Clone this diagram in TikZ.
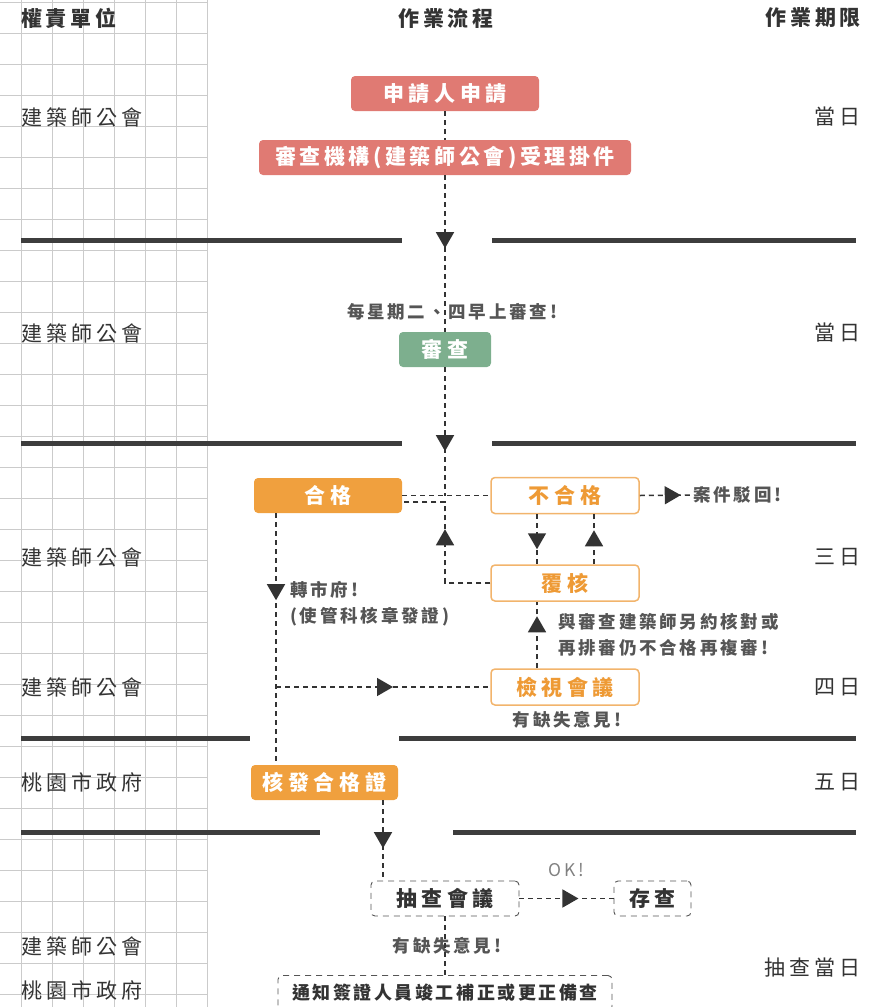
\documentclass[tikz,border=0pt]{standalone}
\usepackage{fontspec}
\setmainfont{Noto Sans CJK TC}
\usetikzlibrary{arrows.meta,decorations.markings,calc}
\definecolor{salmon}{HTML}{E07A73}
\definecolor{sage}{HTML}{7DAF8E}
\definecolor{orng}{HTML}{F0A03E}
\definecolor{orngline}{HTML}{F2B46C}
\definecolor{orngtxt}{HTML}{EE9A35}
\definecolor{ink}{HTML}{333333}
\definecolor{inkl}{HTML}{555555}
\definecolor{gridc}{HTML}{CBCBCB}
\definecolor{sepc}{HTML}{3D3D3D}
\tikzset{
  gridline/.style={draw=gridc, line width=0.9pt},
  sepline/.style={draw=sepc, line width=5pt},
  boxfont/.style={font=\fontsize{21}{23}\selectfont\bfseries\addfontfeature{LetterSpace=22}},
  filledbox/.style={boxfont, rounded corners=4pt, minimum height=35pt, text=white, inner sep=0pt},
  salbox/.style={filledbox, fill=salmon},
  greenbox/.style={filledbox, fill=sage},
  orbox/.style={filledbox, fill=orng},
  obox/.style={boxfont, rounded corners=4pt, minimum height=36pt, minimum width=148pt, inner sep=0pt, draw=orngline, line width=1.5pt, fill=white, text=orngtxt},
  dbox/.style={boxfont, rounded corners=4pt, minimum height=35pt, inner sep=0pt, draw=inkl, line width=0.9pt, dash pattern=on 6pt off 5pt, fill=white, text=ink},
  header/.style={font=\fontsize{21}{23}\selectfont\bfseries\addfontfeature{LetterSpace=18}, text=ink, inner sep=0pt},
  side/.style={font=\fontsize{21}{23}\selectfont\addfontfeature{LetterSpace=19}, text=ink, inner sep=0pt},
  lbl/.style={font=\fontsize{17.5}{26}\selectfont\bfseries\addfontfeature{LetterSpace=16}, text=inkl, inner sep=0pt, align=left},
  dline/.style={draw=ink, line width=1.5pt, dash pattern=on 5pt off 4pt},
  tipat/.style={postaction={decorate, decoration={markings, mark=at position #1 with {\arrow[ink]{Triangle[length=16pt,width=18pt]}}}}}
}
\begin{document}
\begin{tikzpicture}[x=1pt,y=-1pt]
\useasboundingbox (0,0) rectangle (877,1007);
% grid
\foreach \k in {0,...,32} \draw[gridline] (0,2.5+31*\k) -- (207,2.5+31*\k);
\foreach \k in {0,...,6} \draw[gridline] (21.5+31*\k,0) -- (21.5+31*\k,1007);
% separators
\draw[sepline] (21,240) -- (402,240);
\draw[sepline] (492,240) -- (856,240);
\draw[sepline] (21,443) -- (402,443);
\draw[sepline] (492,443) -- (856,443);
\draw[sepline] (21,738) -- (250,738);
\draw[sepline] (399,738) -- (856,738);
\draw[sepline] (21,832) -- (320,832);
\draw[sepline] (453,832) -- (856,832);
% headers
\node[header, anchor=west] (h1) at (21,18) {權責單位};
\node[header] (h2) at (446,18) {作業流程};
\node[header, anchor=east] (h3) at (861,18) {作業期限};
% left labels
\node[side, anchor=west] (u1) at (21,117) {建築師公會};
\node[side, anchor=west] (u2) at (21,333) {建築師公會};
\node[side, anchor=west] (u3) at (21,557) {建築師公會};
\node[side, anchor=west] (u4) at (21,687) {建築師公會};
\node[side, anchor=west] (u5) at (21,782) {桃園市政府};
\node[side, anchor=west] (u6) at (21,946) {建築師公會};
\node[side, anchor=west] (u7) at (21,990) {桃園市政府};
% right labels
\node[side, anchor=east] (d1) at (861,117) {當日};
\node[side, anchor=east] (d2) at (861,333) {當日};
\node[side, anchor=east] (d3) at (861,557) {三日};
\node[side, anchor=east] (d4) at (861,687) {四日};
\node[side, anchor=east] (d5) at (861,782) {五日};
\node[side, anchor=east] (d6) at (861,968) {抽查當日};
% coordinates
\coordinate (cx) at (276,0);
\coordinate (cx2) at (383,0);
\coordinate (cl) at (537,0);
\coordinate (cr) at (594,0);
% nodes
\node[salbox, minimum width=188pt] (apply) at (445,93.5) {申請人申請};
\node[salbox, minimum width=372pt, font=\fontsize{21}{23}\selectfont\bfseries\addfontfeature{LetterSpace=17}] (accept) at (445,157.5) {審查機構(建築師公會)受理掛件};
\node[greenbox, minimum width=92pt] (review) at (445,349.5) {審查};
\node[orbox, minimum width=148pt] (pass) at (328,495.5) {合格};
\node[obox] (fail) at (565,495.5) {不合格};
\node[obox] (recheck) at (565,583) {覆核};
\node[obox] (meet) at (565,687) {檢視會議};
\node[orbox, minimum width=147pt] (issue) at (324.5,782.5) {核發合格證};
\node[dbox, minimum width=148pt] (spot) at (445,898.5) {抽查會議};
\node[dbox, minimum width=77pt] (store) at (652.5,898.5) {存查};
\node[dbox, minimum width=334pt, font=\fontsize{18}{20}\selectfont\bfseries\addfontfeature{LetterSpace=14}] (notify) at (445,993) {通知簽證人員竣工補正或更正備查};
% labels
\node[lbl, anchor=center] (weekly) at (452,312) {每星期二、四早上審查!};
\node[lbl, anchor=west] (reject) at (693,495) {案件駁回!};
\node[lbl, anchor=west] (note) at (558,635) {與審查建築師另約核對或\\再排審仍不合格再複審!};
\node[lbl, anchor=west] (tocity) at (290,603.5) {轉市府!\\(使管科核章發證)};
\node[lbl] (defect1) at (567,720) {有缺失意見!};
\node[lbl, font=\fontsize{17.5}{20}\selectfont\addfontfeature{LetterSpace=16}, text=gray] (ok) at (566,870) {OK!};
\node[lbl] (defect2) at (447,946) {有缺失意見!};
% connectors
\draw[dline] (apply) -- (accept);
\draw[dline, tipat=73pt] (accept) -- (review);
\coordinate (j1) at (445,495.5);
\coordinate (j2) at (445,502);
\draw[dline, tipat=84pt] (review) -- (j1);
\draw[dline] (pass.east) -- (fail.west);
\draw[dline, tipat=99pt] (recheck.west) -| (j2) -- (j2 -| pass.east);
\draw[dline, tipat=41pt] (fail.east) -- (reject.west);
\draw[dline, tipat=35pt] (fail.south -| cl) -- (recheck.north -| cl);
\draw[dline, tipat=34pt] (recheck.north -| cr) -- (fail.south -| cr);
\draw[dline, tipat=52pt] (meet.north -| cl) -- (recheck.south -| cl);
\draw[dline, tipat=87pt] (pass.south -| cx) -- (issue.north -| cx);
\coordinate (b1) at (276,687);
\draw[dline, tipat=117pt] (b1) -- (meet.west);
\draw[dline, tipat=48pt] (issue.south -| cx2) -- (spot.north -| cx2);
\draw[dline, tipat=59pt] (spot.east) -- (store.west);
\draw[dline] (spot.south) -- (notify.north);
\end{tikzpicture}
\end{document}
